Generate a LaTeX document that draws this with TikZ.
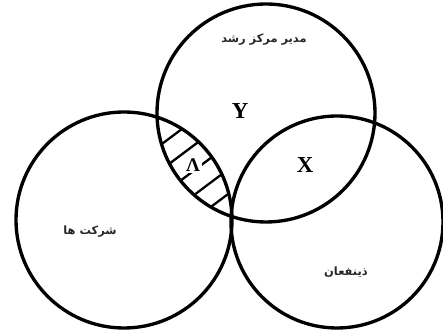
\documentclass[tikz,border=0pt]{standalone}
\usepackage{fontspec}
\usetikzlibrary{calc,positioning}
\TeXXeTstate=1
\newfontfamily\arabicfont[Script=Arabic]{DejaVu Sans}
\newfontfamily\letterfont{Liberation Serif}
\tikzset{
  ring/.style={draw, line width=1.9pt},
  hatch/.style={line width=1.3pt},
  farsi/.style={font=\arabicfont\bfseries\fontsize{6.5}{7}\selectfont, text=black!85},
  region/.style={font=\letterfont\bfseries\fontsize{13}{13}\selectfont},
}

\begin{document}
\begin{tikzpicture}[x=0.02cm,y=-0.02cm]
  \useasboundingbox (0,0) rectangle (443,330);
  % centres of the three sets
  \coordinate (cTop) at (266,113);
  \coordinate (cLeft) at (124,220);
  \coordinate (cRight) at (337,222);
  \coordinate (lensA) at (158,120);
  \coordinate (lensB) at (233,222);

  % hatched part: manager and firms
  \begin{scope}
    \clip (cTop) circle[radius=109];
    \clip (cLeft) circle[radius=108];
    \foreach \f in {0.17,0.33,0.49,0.645,0.80}
      \draw[hatch] ($(lensA)!\f!(lensB)+(-32,24)$) -- ($(lensA)!\f!(lensB)+(32,-24)$);
  \end{scope}

  \draw[ring] (cTop) circle[radius=109];
  \draw[ring] (cLeft) circle[radius=108];
  \draw[ring] (cRight) circle[radius=106];

  \node[farsi] (manager) at (264,40) {\beginR مدیر مرکز رشد\endR};
  \node[farsi] (firms) at (90,232) {\beginR شرکت ها\endR};
  \node[farsi] (stake) at (346,272) {\beginR ذینفعان\endR};

  \node[region] (setY) at (240,111) {Y};
  \node[region] (setX) at (305,165) {X};
  \node[region, font=\letterfont\bfseries\fontsize{11}{11}\selectfont,
    fill=white, inner sep=1pt] (setL) at (193,165) {Λ};
\end{tikzpicture}
\end{document}
